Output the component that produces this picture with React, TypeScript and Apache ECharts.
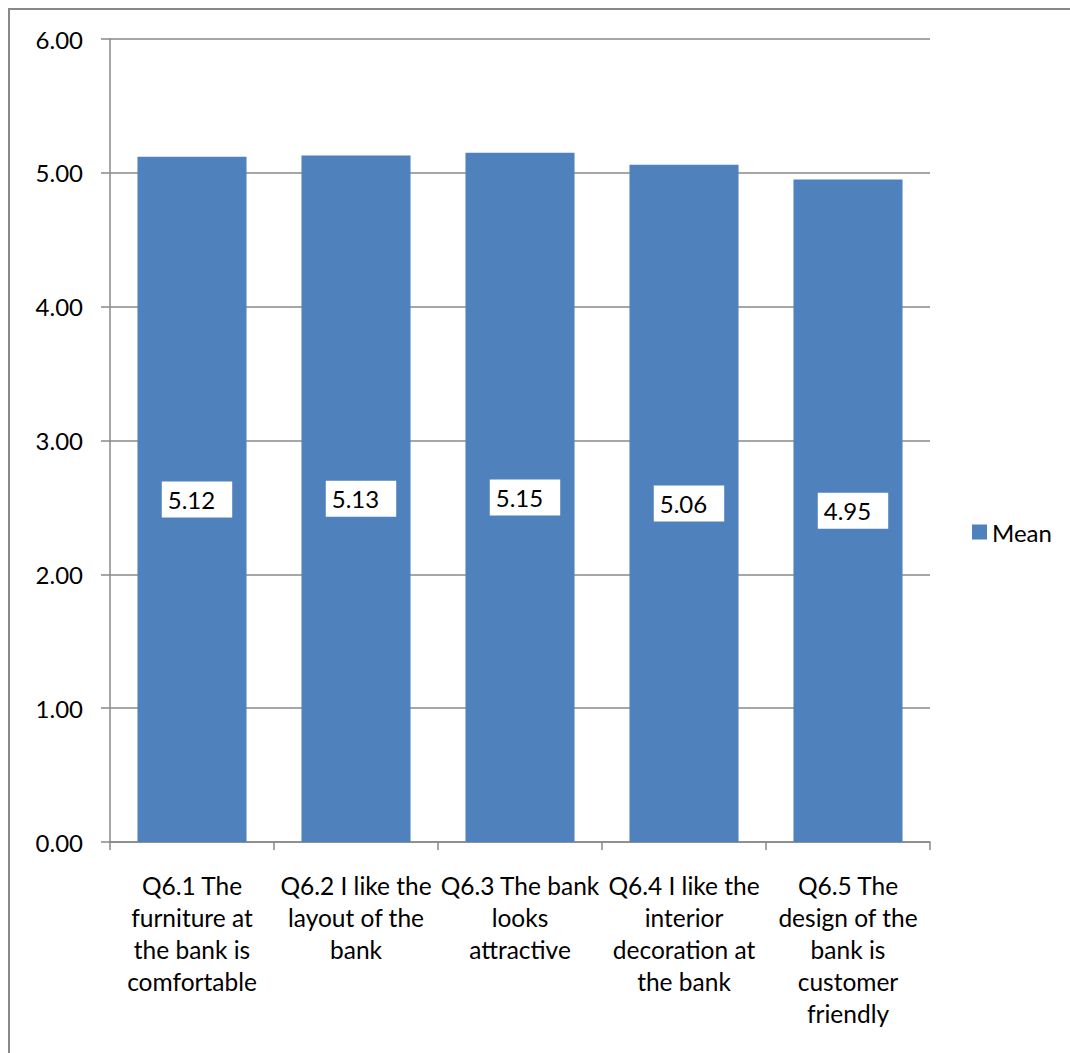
import React, { useEffect, useRef } from "react";
import * as echarts from "echarts";

// Survey items (line breaks follow the wrapped axis labels)
const categories: string[] = [
  "Q6.1 The\nfurniture at\nthe bank is\ncomfortable",
  "Q6.2 I like the\nlayout of the\nbank",
  "Q6.3 The bank\nlooks\nattractive",
  "Q6.4 I like the\ninterior\ndecoration at\nthe bank",
  "Q6.5 The\ndesign of the\nbank is\ncustomer\nfriendly",
];

// Mean score for each item
const meanValues: number[] = [5.12, 5.13, 5.15, 5.06, 4.95];

const seriesName = "Mean";
const yMin = 0;
const yMax = 6;
const yStep = 1;

const FONT = "Lato, 'Open Sans', sans-serif";
const BAR_COLOR = "#4F81BD";
const LINE_COLOR = "#888888";

export default function App() {
  const ref = useRef<HTMLDivElement>(null);

  useEffect(() => {
    if (!ref.current) return;
    const chart = echarts.init(ref.current, undefined, { renderer: "svg" });
    chart.setOption({
      animation: false,
      backgroundColor: "#ffffff",
      textStyle: { fontFamily: FONT },
      graphic: [
        {
          type: "rect",
          shape: { x: 9, y: 9, width: 1200, height: 1200 },
          style: { fill: "none", stroke: LINE_COLOR, lineWidth: 2 },
          silent: true,
          z: -1,
        },
      ],
      grid: { left: 110, right: 140, top: 39, bottom: 211, containLabel: false },
      legend: {
        data: [seriesName],
        left: 967,
        top: 515,
        icon: "rect",
        itemWidth: 15,
        itemHeight: 15,
        itemGap: 8,
        textStyle: { fontFamily: FONT, fontSize: 24, color: "#000" },
      },
      xAxis: {
        type: "category",
        data: categories,
        boundaryGap: true,
        axisLine: { show: true, lineStyle: { color: LINE_COLOR, width: 1.5 } },
        axisTick: { show: true, length: 8, lineStyle: { color: LINE_COLOR, width: 1.5 } },
        axisLabel: {
          interval: 0,
          margin: 27,
          fontFamily: FONT,
          fontSize: 24.5,
          lineHeight: 32,
          color: "#000",
          align: "center",
        },
      },
      yAxis: {
        type: "value",
        min: yMin,
        max: yMax,
        interval: yStep,
        axisLine: { show: true, lineStyle: { color: LINE_COLOR, width: 1.5 } },
        axisTick: { show: true, length: 9, lineStyle: { color: LINE_COLOR, width: 1.5 } },
        splitLine: { show: true, lineStyle: { color: LINE_COLOR, width: 1.5 } },
        axisLabel: {
          margin: 27,
          fontFamily: FONT,
          fontSize: 24,
          color: "#000",
          formatter: (v: number) => v.toFixed(2),
        },
      },
      series: [
        {
          name: seriesName,
          type: "bar",
          data: meanValues,
          barCategoryGap: "33.5%",
          itemStyle: { color: BAR_COLOR },
          label: {
            show: true,
            position: "inside",
            formatter: (p: any) => Number(p.value).toFixed(2),
            fontFamily: FONT,
            fontSize: 24,
            color: "#000",
            backgroundColor: "#ffffff",
            padding: [6, 17, 6, 6],
            offset: [5, 0],
          },
        },
      ],
    });
    return () => chart.dispose();
  }, []);

  return (
    <div
      ref={ref}
      style={{ position: "fixed", left: 0, top: 0, width: 1070, height: 1053 }}
    />
  );
}
